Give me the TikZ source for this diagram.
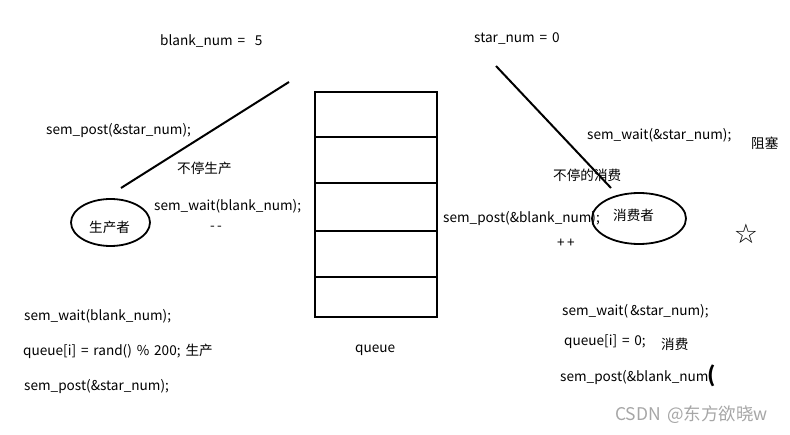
\documentclass[tikz,border=0pt]{standalone}
\usepackage{fontspec}
\setmainfont[WordSpace=1.6]{Noto Sans CJK SC}
\newfontfamily\symfont{DejaVu Sans}
\begin{document}
\begin{tikzpicture}[x=1pt,y=-1pt,
  lbl/.style={anchor=west,inner sep=0pt,font=\fontsize{13.6}{15}\selectfont},
  thick line/.style={line width=2pt}]
\useasboundingbox (0,0) rectangle (790,435);
% queue box
\draw[line width=2pt] (315,92) rectangle (437,317);
\foreach \yy in {137,183,231,277} \draw[line width=2pt] (315,\yy) -- (437,\yy);
% lines
\coordinate (l1) at (121,188); \coordinate (l2) at (289,82);
\draw[thick line] (l1) -- (l2);
\coordinate (r1) at (496,66); \coordinate (r2) at (611,188);
\draw[thick line] (r1) -- (r2);
% ellipses
\draw[line width=1.8pt] (110.5,222.5) ellipse [x radius=39.5, y radius=23.5];
\draw[line width=1.8pt] (639,218.5) ellipse [x radius=47, y radius=25.5];
% texts
\node[lbl] (t1) at (160,41) {blank\_num =\ \ 5};
\node[lbl] (t2) at (46,130) {sem\_post(\&star\_num);};
\node[lbl] (t3) at (177,168) {不停生产};
\node[lbl] (t4) at (154,206) {sem\_wait(blank\_num);};
\node[lbl] (t5) at (210,228) {-\,-};
\node[lbl] (t6) at (89,227) {生产者};
\node[lbl] (t7) at (474,39) {star\_num = 0};
\node[lbl] (t8) at (587,135) {sem\_wait(\&star\_num);};
\node[lbl] (t9) at (751,143) {阻塞};
\node[lbl] (t10) at (553,175) {不停的消费};
\node[lbl] (t11) at (443,218) {sem\_post(\&blank\_num);};
\node[lbl] (t12) at (613,215) {消费者};
\node[lbl] (t13) at (557,243) {+\,+};
\node[anchor=center,inner sep=0pt,font=\symfont\bfseries\fontsize{27}{27}\selectfont] (star) at (746,234) {☆};
\node[lbl] (b1) at (24,316) {sem\_wait(blank\_num);};
\node[lbl] (b2) at (23,351) {queue[i] = rand() \% 200;\ 生产};
\node[lbl] (b3) at (24,386) {sem\_post(\&star\_num);};
\node[lbl] (q) at (355,350) {queue};
\node[lbl] (c1) at (562,311) {sem\_wait(\,\&star\_num);};
\node[lbl] (c2) at (564,342) {queue[i] = 0;};
\node[lbl] (c3) at (661,344) {消费};
\node[lbl] (c4) at (560,377) {sem\_post(\&blank\_num};
\node[anchor=center,inner sep=0pt,font=\fontsize{21}{21}\selectfont\bfseries] (par) at (712,376) {(};
\node[lbl,text=black!35,font=\fontsize{17.5}{20}\selectfont] (wm) at (615,415) {CSDN @东方欲晓w};
\end{tikzpicture}
\end{document}
